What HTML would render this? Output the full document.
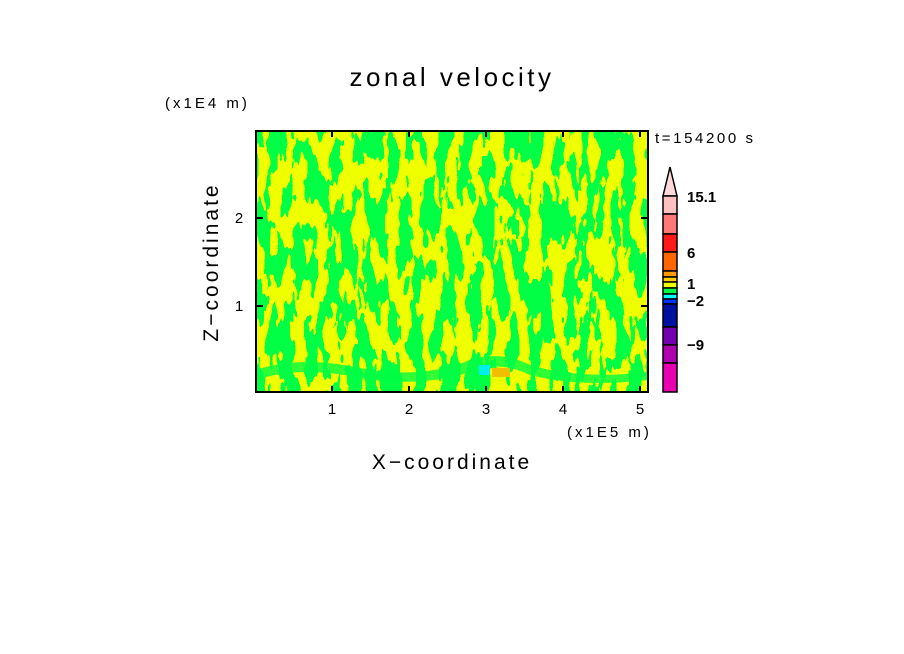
<!DOCTYPE html>
<html><head><meta charset="utf-8"><style>
html,body{margin:0;padding:0;background:#fff;}
svg{display:block;font-family:"Liberation Sans",sans-serif;}
</style></head><body>
<svg width="904" height="654" viewBox="0 0 904 654" xmlns="http://www.w3.org/2000/svg">
<defs>
<filter id="n" x="0" y="0" width="100%" height="100%" color-interpolation-filters="sRGB">
<feTurbulence type="fractalNoise" baseFrequency="0.085 0.025" numOctaves="3" seed="7" result="t"/>
<feColorMatrix in="t" type="matrix" values="1 0 0 0 0 1 0 0 0 0 1 0 0 0 0 0 0 0 0 1"/>
<feComponentTransfer><feFuncR type="discrete" tableValues="0 1"/><feFuncA type="linear" slope="0" intercept="1"/></feComponentTransfer>
<feColorMatrix type="matrix" values="0.94 0 0 0 0  0 0 0 0 1  -0.27 0 0 0 0.27  0 0 0 0 1"/>
</filter>
<clipPath id="c"><rect x="256" y="131" width="392" height="261"/></clipPath>
</defs>
<rect width="904" height="654" fill="#fff"/>
<text x="452" y="86" font-size="26" text-anchor="middle" letter-spacing="3.5">zonal velocity</text>
<text x="165" y="108" font-size="15" letter-spacing="3">(x1E4 m)</text>
<g clip-path="url(#c)">
<rect x="256" y="131" width="392" height="261" filter="url(#n)"/>
<path d="M256 370 Q300 355 360 368 Q420 380 470 360 Q500 350 530 365 Q580 380 648 372 L648 380 Q580 388 530 375 Q500 360 470 372 Q420 388 360 378 Q300 365 256 380Z" fill="#00ff44" opacity="0.8"/>
<rect x="479" y="365" width="11" height="10" fill="#00f0f0"/>
<rect x="492" y="368" width="18" height="9" fill="#f0c000"/>
</g>
<rect x="256" y="131" width="392" height="261" fill="none" stroke="#000" stroke-width="2"/>
<g stroke="#000" stroke-width="2">
<line x1="332" y1="392" x2="332" y2="386"/><line x1="409" y1="392" x2="409" y2="386"/><line x1="486" y1="392" x2="486" y2="386"/><line x1="563" y1="392" x2="563" y2="386"/><line x1="640" y1="392" x2="640" y2="386"/>
<line x1="332" y1="131" x2="332" y2="137"/><line x1="409" y1="131" x2="409" y2="137"/><line x1="486" y1="131" x2="486" y2="137"/><line x1="563" y1="131" x2="563" y2="137"/><line x1="640" y1="131" x2="640" y2="137"/>
<line x1="256" y1="306" x2="263" y2="306"/><line x1="256" y1="218" x2="263" y2="218"/>
<line x1="648" y1="306" x2="641" y2="306"/><line x1="648" y1="218" x2="641" y2="218"/>
</g>
<g font-size="15" text-anchor="middle">
<text x="332" y="414">1</text><text x="409" y="414">2</text><text x="486" y="414">3</text><text x="563" y="414">4</text><text x="640" y="414">5</text>
<text x="239" y="223">2</text><text x="239" y="311">1</text>
</g>
<text x="567" y="437" font-size="15" letter-spacing="3">(x1E5 m)</text>
<text x="452" y="469" font-size="21" text-anchor="middle" letter-spacing="3">X−coordinate</text>
<text transform="translate(218,262) rotate(-90)" font-size="21" text-anchor="middle" letter-spacing="3">Z−coordinate</text>
<text x="655" y="143" font-size="15" letter-spacing="2.6">t=154200 s</text>
<g stroke="#000" stroke-width="1.5">
<polygon points="670,167 663,196 677,196" fill="#ffd8d8"/>
<rect x="663" y="196" width="14" height="18" fill="#ffc0c0"/>
<rect x="663" y="214" width="14" height="20" fill="#ff7878"/>
<rect x="663" y="234" width="14" height="18" fill="#ff1a1a"/>
<rect x="663" y="252" width="14" height="19" fill="#ff6600"/>
<rect x="663" y="271" width="14" height="6" fill="#ff9900"/>
<rect x="663" y="277" width="14" height="5" fill="#ffcc00"/>
<rect x="663" y="282" width="14" height="6" fill="#eeff00"/>
<rect x="663" y="288" width="14" height="6" fill="#00ff44"/>
<rect x="663" y="294" width="14" height="5" fill="#00ffff"/>
<rect x="663" y="299" width="14" height="5" fill="#0033ff"/>
<rect x="663" y="304" width="14" height="23" fill="#0010a0"/>
<rect x="663" y="327" width="14" height="18" fill="#7000b0"/>
<rect x="663" y="345" width="14" height="18" fill="#b000b0"/>
<rect x="663" y="363" width="14" height="29" fill="#e800b0"/>
</g>
<g font-size="15" font-weight="bold">
<text x="687" y="202">15.1</text><text x="687" y="258">6</text><text x="687" y="289">1</text><text x="687" y="306">−2</text><text x="687" y="350">−9</text>
</g>
</svg>
</body></html>
